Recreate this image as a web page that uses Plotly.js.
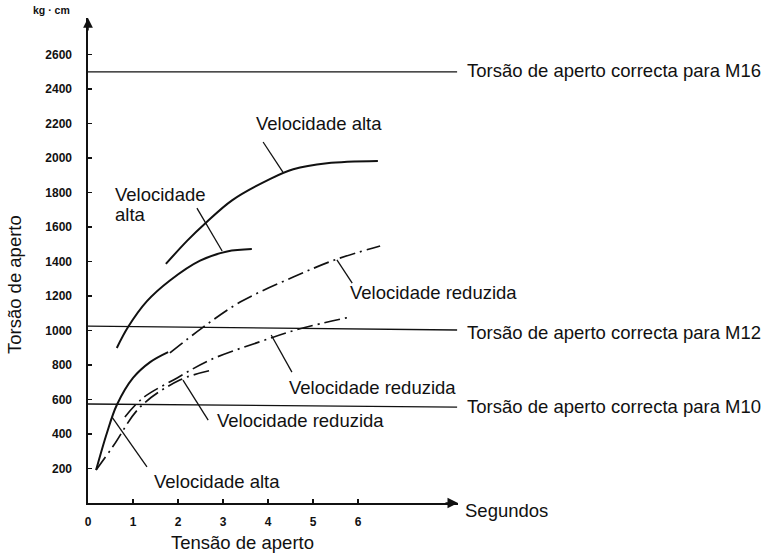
<!DOCTYPE html>
<html>
<head>
<meta charset="utf-8">
<script src="https://cdn.plot.ly/plotly-3.0.1.min.js"></script>
<style>
    html, body { margin: 0; padding: 0; background: #fff; }
    #chart { width: 772px; height: 555px; }
</style>
</head>
<body>
<div id="chart"></div>
<script>
// curves: time (s) and torque (kg·cm)
const altaTopT = [1.73, 2.2, 2.62, 3.2, 4.04, 4.56, 5.31, 6.44];
const altaTopV = [1386, 1520, 1625, 1755, 1878, 1935, 1970, 1983];

const altaMidT = [0.64, 0.89, 1.31, 1.82, 2.49, 3.09, 3.64];
const altaMidV = [899, 1020, 1170, 1290, 1405, 1458, 1472];

const altaLowT = [0.18, 0.42, 0.64, 1.0, 1.38, 1.78];
const altaLowV = [191, 406, 568, 725, 817, 875];

const reduzTopT = [1.82, 2.56, 3.38, 4.56, 5.53, 6.49];
const reduzTopV = [870, 1020, 1165, 1310, 1414, 1490];

const reduzMidT = [0.82, 1.22, 1.98, 2.71, 3.82, 4.71, 5.82];
const reduzMidV = [499, 609, 725, 829, 935, 1010, 1078];

const reduzLowT = [0.18, 0.56, 1.16, 2.04, 2.76];
const reduzLowV = [191, 330, 557, 713, 771];

// correct tightening torque lines
const refT = [0, 8.2];
const m16V = [2500, 2500];
const m12V = [1026, 1003];
const m10V = [574, 556];

// axis ticks
const xTicks = [0, 1, 2, 3, 4, 5, 6];
const yTicks = [200, 400, 600, 800, 1000, 1200, 1400, 1600, 1800, 2000, 2200, 2400, 2600];

// labels (position in axis units, left edge / middle)
const labelText = ['Velocidade alta', 'Velocidade', 'alta', 'Velocidade reduzida',
    'Velocidade reduzida', 'Velocidade reduzida', 'Velocidade alta',
    'Torsão de aperto correcta para M16', 'Torsão de aperto correcta para M12',
    'Torsão de aperto correcta para M10', 'Segundos'];
const labelT = [3.69, 0.56, 0.56, 5.78, 4.42, 2.82, 1.42, 8.38, 8.38, 8.38, 8.33];
const labelV = [2203, 1786, 1675, 1223, 672, 481, 122, 2510, 991, 562, -41];

// leader lines from label to curve
const leadT0 = [3.89, 2.42, 5.53, 4.07, 2.11, 0.53];
const leadV0 = [2093, 1710, 1409, 974, 713, 499];
const leadT1 = [4.33, 2.98, 5.87, 4.53, 2.67, 1.31];
const leadV1 = [1919, 1461, 1275, 759, 481, 209];

const xMax = 8.22;
const yMax = 2812;
const font = 'Liberation Sans, Arial, sans-serif';
const dashDot = '16px,5px,2px,5px';

function curve(x, y, dash, width) {
    return {
        x: x, y: y, mode: 'lines', type: 'scatter', hoverinfo: 'skip',
        line: {color: '#111', width: width, dash: dash, shape: 'spline', smoothing: 1}
    };
}

const traces = [
    curve(altaTopT, altaTopV, 'solid', 2),
    curve(altaMidT, altaMidV, 'solid', 2),
    curve(altaLowT, altaLowV, 'solid', 2),
    curve(reduzTopT, reduzTopV, dashDot, 1.7),
    curve(reduzMidT, reduzMidV, dashDot, 1.7),
    curve(reduzLowT, reduzLowV, dashDot, 1.7),
    curve(refT, m16V, 'solid', 1.3),
    curve(refT, m12V, 'solid', 1.3),
    curve(refT, m10V, 'solid', 1.3)
];

// paper coords so that labels outside the axes are still drawn
function note(t, v, txt, extra) {
    return Object.assign({
        x: t / xMax, y: v / yMax, xref: 'paper', yref: 'paper',
        text: txt, showarrow: false, xanchor: 'left', yanchor: 'middle',
        font: {family: font, size: 18.5, color: '#111'}
    }, extra || {});
}

const annotations = labelText.map((txt, i) => note(labelT[i], labelV[i], txt));

// axis titles and unit
annotations.push(note(3.44, -230, 'Tensão de aperto', {xanchor: 'center'}));
annotations.push(note(-1.62, 1264, 'Torsão de aperto', {xanchor: 'center', textangle: -90}));
annotations.push(note(-0.8, 2858, '<b>kg · cm</b>', {
    xanchor: 'center', font: {family: font, size: 10.5, color: '#111'}
}));

// axis arrow heads
annotations.push({
    x: xMax, y: 0, xref: 'x', yref: 'y', ax: -14, ay: 0, text: '', showarrow: true,
    arrowhead: 2, arrowsize: 1.4, arrowwidth: 1.5, arrowcolor: '#111', standoff: 0
});
annotations.push({
    x: 0, y: yMax, xref: 'x', yref: 'y', ax: 0, ay: 14, text: '', showarrow: true,
    arrowhead: 2, arrowsize: 1.3, arrowwidth: 1.5, arrowcolor: '#111', standoff: 0
});

const shapes = leadT0.map((t, i) => ({
    type: 'line', xref: 'x', yref: 'y',
    x0: t, y0: leadV0[i], x1: leadT1[i], y1: leadV1[i],
    line: {color: '#111', width: 1.3}
}));

const layout = {
    width: 772, height: 555,
    margin: {l: 88, r: 314, t: 18, b: 52},
    paper_bgcolor: '#fff', plot_bgcolor: '#fff',
    showlegend: false,
    xaxis: {
        range: [0, xMax], showgrid: false, zeroline: false,
        showline: true, linecolor: '#111', linewidth: 1.6,
        ticks: 'inside', ticklen: 4, tickwidth: 1.2, tickcolor: '#111',
        tickvals: xTicks, ticktext: xTicks.map(String), ticklabelstandoff: 7,
        tickfont: {family: font, size: 12, color: '#111', weight: 'bold'},
        fixedrange: true
    },
    yaxis: {
        range: [0, yMax], showgrid: false, zeroline: false,
        showline: true, linecolor: '#111', linewidth: 1.6,
        ticks: 'inside', ticklen: 4, tickwidth: 1.2, tickcolor: '#111',
        tickvals: yTicks, ticktext: yTicks.map(String), ticklabelstandoff: 12,
        tickfont: {family: font, size: 12, color: '#111', weight: 'bold'},
        fixedrange: true
    },
    annotations: annotations,
    shapes: shapes
};

Plotly.newPlot('chart', traces, layout, {displayModeBar: false, staticPlot: true});
</script>
</body>
</html>
